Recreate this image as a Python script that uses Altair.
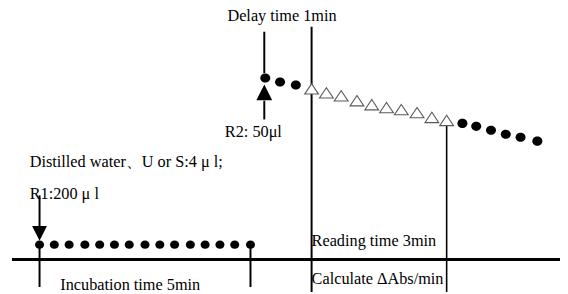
import altair as alt
import pandas as pd

# Schematic coordinates (time axis -> x, signal -> y, in diagram units)
base_x = [40, 55, 70, 86, 101, 116, 131, 147, 162, 177, 193, 208, 223, 238, 254]
base_y = [246] * 15
delay_x = [269, 284, 300]
delay_y = [77, 81, 84]
read_x = [316, 331, 346, 362, 377, 392, 407, 423, 438, 453]
read_y = [88, 92, 95, 100, 104, 107, 109, 112, 117, 120]
post_x = [469, 483, 498, 513, 528, 545]
post_y = [123, 126, 130, 134, 137, 141]

# main time axis
axis_seg = {"x": [12], "x2": [568], "y": [261], "y2": [261]}
# vertical markers: thick
vthick = {"x": [40, 254, 316, 268, 40, 268],
          "x2": [40, 254, 316, 268, 40, 268],
          "y": [246, 246, 25, 30, 196, 100],
          "y2": [289, 289, 294, 72, 228, 119]}
vthin = {"x": [453], "x2": [453], "y": [124], "y2": [294]}

arrow_down = {"x": [40], "y": [234.5]}
arrow_up = {"x": [268], "y": [91.5]}

labels_left = {
    "x": [30, 30, 228, 316, 316],
    "y": [167, 200, 137, 247, 286],
    "t": ["Distilled water、U or S:4 μ l;", "R1:200 μ l", "R2: 50μl",
          "Reading time 3min", "Calculate ΔAbs/min"],
}
labels_center = {
    "x": [132, 286],
    "y": [292, 19],
    "t": ["Incubation time 5min", "Delay time 1min"],
}

xs = alt.Scale(domain=[8, 568])
ys = alt.Scale(domain=[8, 294], reverse=True)
X = lambda f="x": alt.X(f, type="quantitative", scale=xs, axis=None)
Y = lambda f="y": alt.Y(f, type="quantitative", scale=ys, axis=None)

base_dots = pd.DataFrame({"x": base_x, "y": base_y})
upper_dots = pd.DataFrame({"x": delay_x + post_x, "y": delay_y + post_y})
tri = pd.DataFrame({"x": read_x, "y": read_y})

layers = [
    alt.Chart(pd.DataFrame(axis_seg)).mark_rule(color="black", strokeWidth=3).encode(
        x=X(), x2="x2", y=Y(), y2="y2"),
    alt.Chart(pd.DataFrame(vthick)).mark_rule(color="black", strokeWidth=2).encode(
        x=X(), x2="x2", y=Y(), y2="y2"),
    alt.Chart(pd.DataFrame(vthin)).mark_rule(color="black", strokeWidth=1.6).encode(
        x=X(), x2="x2", y=Y(), y2="y2"),
    alt.Chart(pd.DataFrame(arrow_down)).mark_point(
        shape="M-1,-1L1,-1L0,1Z", size=225, filled=True, color="black", opacity=1).encode(
        x=X(), y=Y()),
    alt.Chart(pd.DataFrame(arrow_up)).mark_point(
        shape="M-1,1L1,1L0,-1Z", size=256, filled=True, color="black", opacity=1).encode(
        x=X(), y=Y()),
    alt.Chart(base_dots).mark_point(shape="M-1.1,0A1.1,1,0,1,0,1.1,0A1.1,1,0,1,0,-1.1,0Z",
                                    size=70, filled=True, color="black",
                                    opacity=1).encode(x=X(), y=Y()),
    alt.Chart(upper_dots).mark_point(shape="M-1.1,0A1.1,1,0,1,0,1.1,0A1.1,1,0,1,0,-1.1,0Z",
                                     size=85, filled=True, color="black",
                                     opacity=1).encode(x=X(), y=Y()),
    alt.Chart(tri).mark_point(shape="M-1,0.75L1,0.75L0,-0.75Z", size=196, filled=True,
                              fill="white", stroke="#5a5a5a", strokeWidth=1.1,
                              opacity=1).encode(x=X(), y=Y()),
    alt.Chart(pd.DataFrame(labels_left)).mark_text(
        align="left", baseline="alphabetic", font="Liberation Serif", fontSize=16.5,
        color="black").encode(x=X(), y=Y(), text="t:N"),
    alt.Chart(pd.DataFrame(labels_center)).mark_text(
        align="center", baseline="alphabetic", font="Liberation Serif", fontSize=16.5,
        color="black").encode(x=X(), y=Y(), text="t:N"),
]

chart = alt.layer(*layers).properties(
    width=560, height=286, padding=0,
    autosize=alt.AutoSizeParams(type="none"),
).configure_view(stroke=None)

chart.save("out.html", embed_options={"renderer": "svg", "actions": False})
